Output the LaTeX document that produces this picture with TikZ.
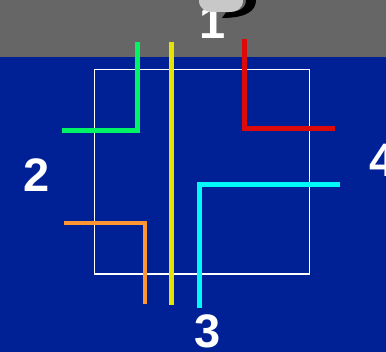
\documentclass[tikz,border=0pt]{standalone}
\usepackage{fontspec}
\setmainfont{Liberation Sans}
\definecolor{bgblue}{RGB}{0,33,150}
\definecolor{bggray}{RGB}{102,102,102}
\definecolor{lgreen}{RGB}{0,245,100}
\definecolor{lyellow}{RGB}{228,228,0}
\definecolor{lred}{RGB}{222,10,10}
\definecolor{lcyan}{RGB}{0,250,250}
\definecolor{lorange}{RGB}{255,150,50}
\definecolor{blobgray}{RGB}{200,200,200}
\begin{document}
\begin{tikzpicture}[x=1pt,y=-1pt,
  lbl/.style={text=white,inner sep=0pt,font=\fontsize{47}{47}\selectfont\bfseries},
  wire/.style={line width=5pt,line cap=butt,line join=miter},
  thinwire/.style={line width=4pt,line cap=butt,line join=miter}]
\useasboundingbox (0,0) rectangle (386,352);
\fill[bgblue] (0,0) rectangle (386,352);
\fill[bggray] (0,0) rectangle (386,57.5);
% label 1, partly under the glyph at the top
\node[lbl] (n1) at (213,22) {1};
% partially visible glyph at the top
\fill[black] (246,0) .. controls (246,8) and (240,12) .. (226,12.5) -- (222,18)
  .. controls (246,18) and (256,11) .. (256,0) -- cycle;
\fill[blobgray] (199,0) .. controls (199,9) and (205,12) .. (215,12)
  -- (228,12) .. controls (238,12) and (243,8) .. (243,0) -- cycle;
% white box
\draw[white,line width=1.2pt] (94.7,69.3) rectangle (309.3,274);
% lines
\coordinate (g1) at (137.7,41.7);
\coordinate (g2) at (137.7,131);
\coordinate (g3) at (62,131);
\draw[wire,lgreen] (g1) -- (g2) -- (g3);
\coordinate (y1) at (171.3,41.7);
\coordinate (y2) at (171.3,305.5);
\draw[wire,lyellow] (y1) -- (y2);
\coordinate (r1) at (244.3,39);
\coordinate (r2) at (244.3,128.5);
\coordinate (r3) at (334.7,128.5);
\draw[wire,lred] (r1) -- (r2) -- (r3);
\coordinate (c1) at (340,184.7);
\coordinate (c2) at (199,184.7);
\coordinate (c3) at (199,308);
\draw[wire,lcyan] (c1) -- (c2) -- (c3);
\coordinate (o1) at (63.5,223);
\coordinate (o2) at (145.3,223);
\coordinate (o3) at (145.3,304.5);
\draw[thinwire,lorange] (o1) -- (o2) -- (o3);
% labels
\node[lbl] (n2) at (37,175) {2};
\node[lbl] (n3) at (207.5,331) {3};
\node[lbl] (n4) at (383,160) {4};
\end{tikzpicture}
\end{document}
